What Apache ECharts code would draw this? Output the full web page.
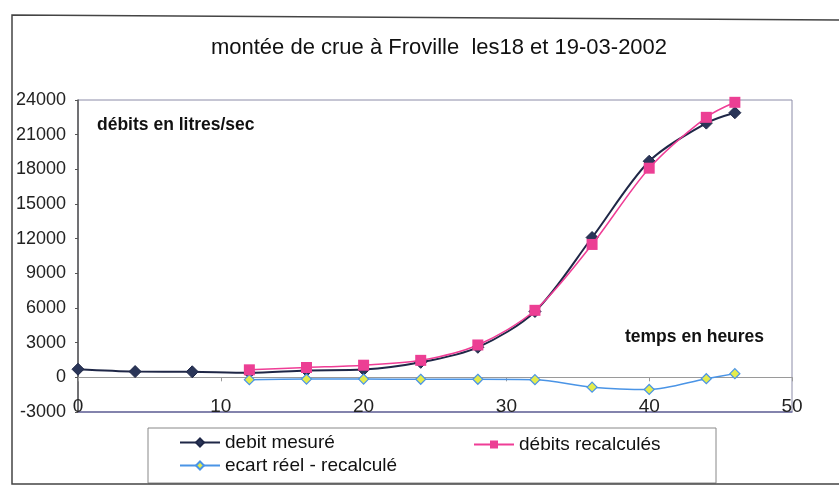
<!DOCTYPE html>
<html>
<head>
<meta charset="utf-8">
<script src="https://cdn.jsdelivr.net/npm/echarts@6/dist/echarts.min.js"></script>
<style>
  html, body { margin: 0; padding: 0; background: #ffffff; }
  #chart { width: 839px; height: 485px; }
</style>
</head>
<body>
<div id="chart"></div>
<script>
// Heures de mesure (x) et débits en litres/sec
const heuresMesure = [0, 4, 8, 12, 16, 20, 24, 28, 32, 36, 40, 44, 46];
const debitMesure = [700, 500, 480, 400, 600, 680, 1300, 2600, 5700, 12100, 18700, 22000, 22900];

const heuresCalcul = [12, 16, 20, 24, 28, 32, 36, 40, 44, 46];
const debitRecalcule = [650, 850, 1050, 1470, 2800, 5800, 11500, 18100, 22500, 23800];
const ecartReel = [-200, -150, -150, -170, -170, -200, -850, -1050, -120, 320];

const yTicks = { min: -3000, max: 24000, step: 3000 };
const xTicks = { min: 0, max: 50, step: 10 };

const pairs = (xs, ys) => xs.map((x, i) => [x, ys[i]]);

const FONT = '"Liberation Sans", Arial, sans-serif';
const chart = echarts.init(document.getElementById('chart'));

const legendBase = {
  orient: 'horizontal',
  itemWidth: 40,
  itemHeight: 10,
  itemGap: 4,
  textStyle: { fontFamily: FONT, fontSize: 19, color: '#111' },
  selectedMode: false
};

chart.setOption({
  animation: false,
  backgroundColor: '#ffffff',
  title: {
    text: 'montée de crue à Froville  les18 et 19-03-2002',
    left: 434,
    textAlign: 'center',
    top: 32,
    textStyle: { fontFamily: FONT, fontSize: 22, fontWeight: 'normal', color: '#111' }
  },
  grid: {
    left: 78, right: 47, top: 100, bottom: 73,
    show: true,
    borderColor: '#8c8ca8',
    borderWidth: 1
  },
  legend: [
    Object.assign({}, legendBase, { left: 174, top: 428, data: ['debit mesuré'] }),
    Object.assign({}, legendBase, { left: 468, top: 430, data: ['débits recalculés'] }),
    Object.assign({}, legendBase, { left: 174, top: 451, data: ['ecart réel - recalculé'] })
  ],
  xAxis: [
    {
      type: 'value',
      min: xTicks.min, max: xTicks.max, interval: xTicks.step,
      position: 'bottom',
      axisLine: { onZero: false, lineStyle: { color: '#6e6ea0', width: 1.5 } },
      axisTick: { show: false },
      splitLine: { show: false },
      axisLabel: { margin: -15, fontFamily: FONT, fontSize: 19, color: '#222' }
    },
    {
      type: 'value',
      min: xTicks.min, max: xTicks.max, interval: xTicks.step,
      position: 'bottom',
      axisLine: { onZero: true, lineStyle: { color: '#9a9a9a', width: 1 } },
      axisTick: { show: true, inside: false, length: 4, lineStyle: { color: '#9a9a9a' } },
      splitLine: { show: false },
      axisLabel: { show: false }
    }
  ],
  yAxis: {
    type: 'value',
    min: yTicks.min, max: yTicks.max, interval: yTicks.step,
    axisLine: { show: true, lineStyle: { color: '#555', width: 1.5 } },
    axisTick: { show: true, length: 3, lineStyle: { color: '#555' } },
    splitLine: { show: false },
    axisLabel: {
      margin: 12, fontFamily: FONT, fontSize: 18, color: '#222',
      formatter: v => String(v)
    }
  },
  series: [
    {
      name: 'debit mesuré',
      type: 'line',
      smooth: 0.3,
      data: pairs(heuresMesure, debitMesure),
      symbol: 'diamond',
      symbolSize: 12,
      lineStyle: { color: '#1f2747', width: 2 },
      itemStyle: { color: '#2a3558', borderColor: '#1f2747', borderWidth: 1 },
      z: 3
    },
    {
      name: 'débits recalculés',
      type: 'line',
      smooth: 0.3,
      data: pairs(heuresCalcul, debitRecalcule),
      symbol: 'rect',
      symbolSize: 11,
      lineStyle: { color: '#ef3d96', width: 1.5 },
      itemStyle: { color: '#ec3f94' },
      z: 4
    },
    {
      name: 'ecart réel - recalculé',
      type: 'line',
      smooth: 0.3,
      data: pairs(heuresCalcul, ecartReel),
      symbol: 'diamond',
      symbolSize: 10,
      lineStyle: { color: '#4a94e6', width: 1.5 },
      itemStyle: { color: '#e4ec4c', borderColor: '#4a94e6', borderWidth: 1.2 },
      z: 3
    }
  ],
  graphic: [
    // cadre extérieur du graphique
    {
      type: 'polyline',
      silent: true,
      shape: { points: [[845, 20], [12, 15], [12, 484], [845, 484]] },
      style: { stroke: '#444', lineWidth: 1.5, fill: null }
    },
    // encadré de la légende
    {
      type: 'rect',
      silent: true,
      shape: { x: 148, y: 428, width: 568, height: 55 },
      style: { stroke: '#888', lineWidth: 1, fill: null },
      z: -1
    },
    {
      type: 'text',
      silent: true,
      left: 97, top: 116,
      style: { text: 'débits en litres/sec', font: 'bold 17.5px ' + FONT, fill: '#111' }
    },
    {
      type: 'text',
      silent: true,
      left: 625, top: 328,
      style: { text: 'temps en heures', font: 'bold 17.5px ' + FONT, fill: '#111' }
    }
  ]
});
</script>
</body>
</html>
